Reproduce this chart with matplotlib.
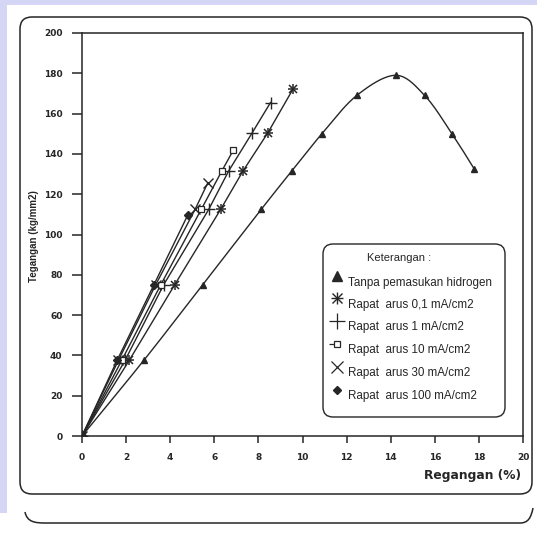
import numpy as np
import matplotlib
matplotlib.use("Agg")
import matplotlib.pyplot as plt
from matplotlib.patches import FancyBboxPatch, Rectangle, PathPatch
from matplotlib.path import Path

# Stress-strain data (strain in %, stress in kg/mm2)
strain_tanpa = [0, 2.8, 5.47, 8.13, 9.51, 10.88, 12.46, 14.22, 15.54, 16.78, 17.79]
stress_tanpa = [0, 37.5, 75, 112.5, 131.5, 150, 169, 179, 169, 150, 132.5]

strain_01 = [0, 2.14, 4.2, 6.29, 7.3, 8.43, 9.56]
stress_01 = [0, 37.5, 75, 112.5, 131.5, 150.5, 172]

strain_1 = [0, 1.95, 3.7, 5.75, 6.65, 7.72, 8.55]
stress_1 = [0, 37.5, 75, 112.5, 131.5, 150.5, 165.5]

strain_10 = [0, 1.8, 3.57, 5.41, 6.34, 6.87]
stress_10 = [0, 37.5, 75, 112.5, 131.5, 142]

strain_30 = [0, 1.65, 3.34, 5.13, 5.7]
stress_30 = [0, 37.5, 75, 112.5, 125.5]

strain_100 = [0, 1.59, 3.26, 4.79]
stress_100 = [0, 37.5, 75, 109.5]

x_ticks = [0, 2, 4, 6, 8, 10, 12, 14, 16, 18, 20]
y_ticks = [0, 20, 40, 60, 80, 100, 120, 140, 160, 180, 200]

legend_title = "Keterangan :"
legend_labels = [
    "Tanpa pemasukan hidrogen",
    "Rapat  arus 0,1 mA/cm2",
    "Rapat  arus 1 mA/cm2",
    "Rapat  arus 10 mA/cm2",
    "Rapat  arus 30 mA/cm2",
    "Rapat  arus 100 mA/cm2",
]

W, H = 537, 543
INK = "#262626"
LAV = "#d5d5f5"
TICKFONT = dict(family="DejaVu Sans", weight="bold", size=6.5, color=INK)

fig = plt.figure(figsize=(W / 100, H / 100), dpi=100)
fig.patch.set_facecolor("white")

# Background layer in pixel coordinates: page border, frame, bracket
bg = fig.add_axes([0, 0, 1, 1], zorder=0)
bg.set_xlim(0, W)
bg.set_ylim(H, 0)
bg.axis("off")
bg.add_patch(Rectangle((0, 0), W, 5, color=LAV, lw=0))
bg.add_patch(Rectangle((0, 0), 7, 513, color=LAV, lw=0))
bg.add_patch(FancyBboxPatch((20 + 12, 17 + 12), 512 - 24, 477 - 24,
                            boxstyle="round,pad=12", fc="white", ec=INK, lw=1.1))
bracket = Path([(25, 512), (27, 522), (35, 523), (45, 523),
                (520, 523), (528, 523), (531, 518), (533, 508)],
               [Path.MOVETO, Path.CURVE4, Path.CURVE4, Path.CURVE4,
                Path.LINETO, Path.CURVE4, Path.CURVE4, Path.CURVE4])
bg.add_patch(PathPatch(bracket, fc="none", ec=INK, lw=1.1))

# Main plot
ax = fig.add_axes([82 / W, 1 - 436 / H, (523 - 82) / W, (436 - 33) / H], zorder=1)
ax.set_xlim(0, 20)
ax.set_ylim(0, 200)
for s in ax.spines.values():
    s.set_color(INK)
    s.set_linewidth(1.1)
ax.set_xticks(x_ticks)
ax.set_yticks(y_ticks)
ax.set_xticklabels([str(v) for v in x_ticks], fontdict=TICKFONT)
ax.set_yticklabels([str(v) for v in y_ticks], fontdict=TICKFONT)
ax.tick_params(axis="x", direction="out", length=5, width=1.1, color=INK, pad=7)
ax.tick_params(axis="y", direction="out", length=7, width=1.1, color=INK, pad=7)


def smooth_path(xs, ys, steps=20):
    # Catmull-Rom rendering of the line through the measured points
    p = np.column_stack([xs, ys]).astype(float)
    ext = np.vstack([p[0] - (p[1] - p[0]), p, p[-1] + (p[-1] - p[-2])])
    out = []
    for i in range(1, len(ext) - 2):
        p0, p1, p2, p3 = ext[i - 1], ext[i], ext[i + 1], ext[i + 2]
        t = np.linspace(0, 1, steps, endpoint=False)[:, None]
        seg = 0.5 * ((2 * p1) + (-p0 + p2) * t + (2 * p0 - 5 * p1 + 4 * p2 - p3) * t ** 2
                     + (-p0 + 3 * p1 - 3 * p2 + p3) * t ** 3)
        out.append(seg)
    out.append(p[-1:])
    out = np.vstack(out)
    return out[:, 0], out[:, 1]


lw = 1.0
sx, sy = smooth_path(strain_tanpa, stress_tanpa)
ax.plot(sx, sy, color=INK, lw=lw, zorder=2)
ax.plot(strain_tanpa, stress_tanpa, ls="none", marker="^", ms=4.8, color=INK, zorder=3)

ax.plot(strain_01, stress_01, color=INK, lw=lw, zorder=2)
ax.plot(strain_01, stress_01, ls="none", marker="+", ms=7, mew=1.1, color=INK, zorder=3)
ax.plot(strain_01, stress_01, ls="none", marker="x", ms=5.5, mew=1.1, color=INK, zorder=3)

ax.plot(strain_1, stress_1, color=INK, lw=lw, zorder=2)
ax.plot(strain_1, stress_1, ls="none", marker="+", ms=9, mew=1.0, color=INK, zorder=3)

ax.plot(strain_10, stress_10, color=INK, lw=lw, zorder=2)
ax.plot(strain_10, stress_10, ls="none", marker="s", ms=3.8, mew=0.9, mfc="white", mec=INK, zorder=3)

ax.plot(strain_30, stress_30, color=INK, lw=lw, zorder=2)
ax.plot(strain_30, stress_30, ls="none", marker="x", ms=6.5, mew=1.0, color=INK, zorder=3)

ax.plot(strain_100, stress_100, color=INK, lw=lw, zorder=2)
ax.plot(strain_100, stress_100, ls="none", marker="D", ms=3.6, color=INK, zorder=3)

# Axis titles
fig.text(521 / W, 1 - 475 / H, "Regangan (%)", ha="right", va="center",
         family="DejaVu Sans", weight="bold", size=8.8, color=INK)
fig.text(34 / W, 1 - 236 / H, "Tegangan (kg/mm2)", ha="center", va="center", rotation=90,
         family="Liberation Sans", weight="bold", size=7, color=INK)

# Legend layer in pixel coordinates
lg = fig.add_axes([0, 0, 1, 1], zorder=4)
lg.set_xlim(0, W)
lg.set_ylim(H, 0)
lg.axis("off")
lg.patch.set_alpha(0)
lg.add_patch(FancyBboxPatch((323 + 10, 244 + 10), 182 - 20, 173 - 20,
                            boxstyle="round,pad=10", fc="white", ec=INK, lw=1.0))
lg.text(399, 258, legend_title, ha="center", va="center",
        family="Liberation Sans", size=8, color=INK)
text_y = [283, 305, 327, 350, 373, 396]
mark_y = [276, 298, 321, 344, 367, 390]
mx = 337
lg.plot(mx, mark_y[0], marker="^", ms=6.5, color=INK)
lg.plot(mx, mark_y[1], marker="+", ms=9, mew=1.0, color=INK)
lg.plot(mx, mark_y[1], marker="x", ms=7, mew=1.0, color=INK)
lg.plot(mx, mark_y[2], marker="+", ms=12, mew=0.9, color=INK)
lg.plot(mx - 5, mark_y[3], marker="_", ms=5, mew=0.9, color=INK)
lg.plot(mx, mark_y[3], marker="s", ms=4.5, mew=0.9, mfc="white", mec=INK)
lg.plot(mx, mark_y[4], marker="x", ms=8, mew=0.9, color=INK)
lg.plot(mx, mark_y[5], marker="D", ms=4.5, color=INK)
for ty, lab in zip(text_y, legend_labels):
    lg.text(348, ty, lab, ha="left", va="center",
            family="Liberation Sans", size=8.4, color=INK)

fig.savefig("out.png", dpi=100)
